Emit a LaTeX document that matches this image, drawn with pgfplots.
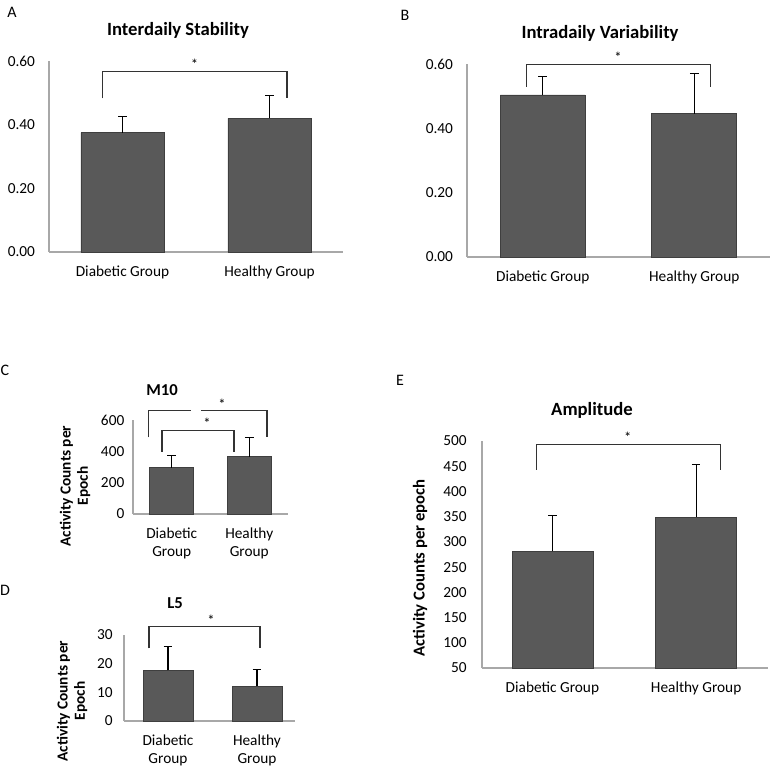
\documentclass[border=0pt]{standalone}
\usepackage{pgfplots}
\pgfplotsset{compat=1.18}
\usepackage{fontspec}
\setmainfont{Carlito}
\definecolor{barfill}{HTML}{595959}
\definecolor{baredge}{HTML}{3F3F3F}
\definecolor{axisgray}{HTML}{A8A8A8}
\definecolor{brk}{HTML}{333333}
\newcommand{\pxy}[2]{({#1*0.75pt},{-#2*0.75pt})}
\pgfplotsset{
 panel/.style={
  scale only axis, anchor=south west,
  axis x line*=bottom, axis y line*=left,
  axis line style={draw=axisgray, line width=0.9pt, -},
  major tick length=0pt,
  enlargelimits=false,
  xtick={0,1},
  xticklabels={Diabetic Group, Healthy Group},
  tick label style={font=\fontsize{11.5}{13.5}\selectfont, text=black},
  xticklabel style={yshift=-7pt},
  /pgf/number format/assume math mode=true,
  ybar, bar shift=0pt,
  clip mode=individual,
 },
 bars/.style={fill=barfill, draw=baredge, line width=0.5pt,
   error bars/.cd, y dir=plus, y explicit,
   error bar style={black, line width=0.8pt},
   error mark=|,
   error mark options={black, line width=0.8pt, mark size=3.2pt}},
}
\tikzset{
 brk/.style={draw=brk, line width=0.8pt},
 star/.style={font=\fontsize{11}{12}\selectfont, anchor=south, inner sep=1pt},
}
\begin{document}
\begin{tikzpicture}
\useasboundingbox (0,0) rectangle ({771*0.75pt},{-772*0.75pt});

% ---------------- A ----------------
\node[font=\fontsize{12}{14}\selectfont] at \pxy{12}{12} {A};
\node[font=\bfseries\fontsize{14}{16}\selectfont] at \pxy{178}{30} {Interdaily Stability};
\begin{axis}[panel, at={(36.75pt,-189pt)}, width=220.5pt, height=143.25pt,
  xmin=-0.5, xmax=1.5, ymin=0, ymax=0.6, ytick={0,0.2,0.4,0.6},
  bar width=0.565,
  yticklabel style={xshift=-7pt, /pgf/number format/.cd, fixed, fixed zerofill, precision=2}]
\addplot[bars] coordinates {(0,0.375) +- (0,0.050) (1,0.420) +- (0,0.073)};
\draw[brk] (axis cs:-0.139,0.483) -- (axis cs:-0.139,0.567) -- (axis cs:1.119,0.567) -- (axis cs:1.119,0.483);
\node[star] at (axis cs:0.49,0.567) {*};
\end{axis}

% ---------------- B ----------------
\node[font=\fontsize{12}{14}\selectfont] at \pxy{405}{15} {B};
\node[font=\bfseries\fontsize{14}{16}\selectfont] at \pxy{600}{33} {Intradaily Variability};
\begin{axis}[panel, at={(350.25pt,-192.75pt)}, width=227.25pt, height=144.75pt,
  xmin=-0.5, xmax=1.5, ymin=0, ymax=0.6, ytick={0,0.2,0.4,0.6},
  bar width=0.561,
  yticklabel style={xshift=-7pt, /pgf/number format/.cd, fixed, fixed zerofill, precision=2}]
\addplot[bars] coordinates {(0,0.504) +- (0,0.057) (1,0.446) +- (0,0.125)};
\draw[brk] (axis cs:-0.11,0.53) -- (axis cs:-0.11,0.599) -- (axis cs:1.11,0.599) -- (axis cs:1.11,0.53);
\node[star] at (axis cs:0.497,0.599) {*};
\end{axis}

% ---------------- C ----------------
\node[font=\fontsize{12}{14}\selectfont] at \pxy{5}{370} {C};
\node[font=\bfseries\fontsize{12.5}{14}\selectfont] at \pxy{162}{390} {M10};
\node[font=\bfseries\fontsize{11.5}{13}\selectfont, rotate=90, align=center] at \pxy{75}{486} {Activity Counts per\\Epoch};
\begin{axis}[panel, at={(99.75pt,-385.5pt)}, width=116.25pt, height=70.5pt,
  xmin=-0.5, xmax=1.5, ymin=0, ymax=600, ytick={0,200,400,600},
  bar width=0.568,
  xticklabels={{Diabetic\\Group},{Healthy\\Group}},
  xticklabel style={align=center},
  yticklabel style={xshift=-3pt}]
\addplot[bars] coordinates {(0,296) +- (0,76) (1,366) +- (0,123)};
\draw[brk] (axis cs:-0.126,398) -- (axis cs:-0.126,536) -- (axis cs:0.803,536) -- (axis cs:0.803,398);
\node[star] at (axis cs:0.455,536) {*};
\draw[brk] (axis cs:-0.294,489) -- (axis cs:-0.294,660) -- (axis cs:0.248,660);
\draw[brk] (axis cs:0.377,660) -- (axis cs:1.229,660) -- (axis cs:1.229,489);
\node[star] at (axis cs:0.648,660) {*};
\end{axis}

% ---------------- D ----------------
\node[font=\fontsize{12}{14}\selectfont] at \pxy{5}{590} {D};
\node[font=\bfseries\fontsize{12.5}{14}\selectfont] at \pxy{175}{603} {L5};
\node[font=\bfseries\fontsize{11.5}{13}\selectfont, rotate=90, align=center] at \pxy{72}{701} {Activity Counts per\\Epoch};
\begin{axis}[panel, at={(93pt,-540.75pt)}, width=128.25pt, height=64.5pt,
  xmin=-0.494, xmax=1.427, ymin=0, ymax=30, ytick={0,10,20,30},
  bar width=0.56,
  xticklabels={{Diabetic\\Group},{Healthy\\Group}},
  xticklabel style={align=center},
  yticklabel style={xshift=-5pt}]
\addplot[bars] coordinates {(0,17.7) +- (0,8.4) (1,12.1) +- (0,6.0)};
\draw[brk] (axis cs:-0.213,25.3) -- (axis cs:-0.213,32.9) -- (axis cs:1.034,32.9) -- (axis cs:1.034,25.3);
\node[star] at (axis cs:0.483,32.9) {*};
\end{axis}

% ---------------- E ----------------
\node[font=\fontsize{12}{14}\selectfont] at \pxy{400}{380} {E};
\node[font=\bfseries\fontsize{14}{16}\selectfont] at \pxy{592}{410} {Amplitude};
\node[font=\bfseries\fontsize{12.5}{14}\selectfont, rotate=90] at \pxy{420}{568} {Activity Counts per epoch};
\begin{axis}[panel, at={(361.5pt,-501pt)}, width=214.5pt, height=170.25pt,
  xmin=-0.49, xmax=1.5, ymin=50, ymax=500, ytick={50,100,...,500},
  bar width=0.5625,
  yticklabel style={xshift=-8pt}]
\addplot[bars] coordinates {(0,281) +- (0,71) (1,349) +- (0,105)};
\draw[brk] (axis cs:-0.108,443) -- (axis cs:-0.108,494) -- (axis cs:1.17,494) -- (axis cs:1.17,443);
\node[star] at (axis cs:0.524,494) {*};
\end{axis}
\end{tikzpicture}
\end{document}
